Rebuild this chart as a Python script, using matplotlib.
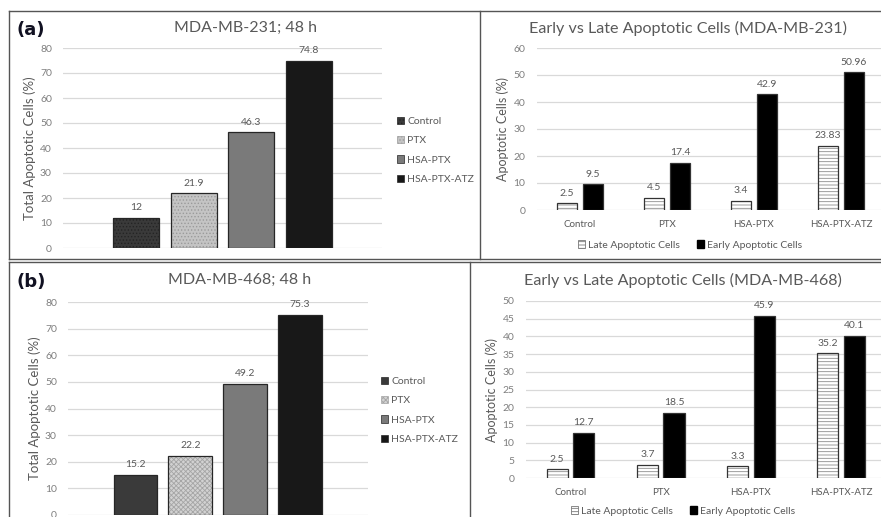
import matplotlib
matplotlib.use("Agg")
import matplotlib.pyplot as plt
from matplotlib.patches import Patch
from matplotlib.lines import Line2D
import numpy as np

plt.rcParams['font.family'] = ['Lato', 'DejaVu Sans']
plt.rcParams['hatch.linewidth'] = 0.6

W, H = 881, 517

# ---------------- data ----------------
groups = ["Control", "PTX", "HSA-PTX", "HSA-PTX-ATZ"]
total_231 = [12, 21.9, 46.3, 74.8]
total_468 = [15.2, 22.2, 49.2, 75.3]
late_231 = [2.5, 4.5, 3.4, 23.83]
early_231 = [9.5, 17.4, 42.9, 50.96]
late_468 = [2.5, 3.7, 3.3, 35.2]
early_468 = [12.7, 18.5, 45.9, 40.1]
late_labels_231 = ["2.5", "4.5", "3.4", "23.83"]
early_labels_231 = ["9.5", "17.4", "42.9", "50.96"]
late_labels_468 = ["2.5", "3.7", "3.3", "35.2"]
early_labels_468 = ["12.7", "18.5", "45.9", "40.1"]
total_labels_231 = ["12", "21.9", "46.3", "74.8"]
total_labels_468 = ["15.2", "22.2", "49.2", "75.3"]

TXT = '#595959'
TICK = '#7f7f7f'
GRID = '#d9d9d9'

fig = plt.figure(figsize=(W / 100, H / 100), dpi=100)


def ax_px(x0, x1, ytop, ybot):
    return fig.add_axes([x0 / W, 1 - ybot / H, (x1 - x0) / W, (ybot - ytop) / H])


def style(ax, ymax, step):
    ax.set_ylim(0, ymax)
    ax.set_yticks(np.arange(0, ymax + 0.01, step))
    ax.grid(axis='y', color=GRID, linewidth=0.9)
    ax.set_axisbelow(True)
    for s in ax.spines.values():
        s.set_visible(False)
    ax.tick_params(axis='y', length=0, labelsize=7.5, labelcolor=TICK, pad=8)
    ax.tick_params(axis='x', length=0, labelsize=7, labelcolor=TXT)


def hbar(ax, x, h, w, face, hatch=None, hcol=None, edge='#1a1a1a', lw=1.0):
    if hatch:
        ax.bar(x, h, w, color=face, edgecolor=hcol, hatch=hatch, linewidth=0, zorder=2)
        ax.bar(x, h, w, fill=False, edgecolor=edge, linewidth=lw, zorder=3)
    else:
        ax.bar(x, h, w, color=face, edgecolor=edge, linewidth=lw, zorder=2)


def labels(ax, x, vals, texts):
    for xi, v, t in zip(x, vals, texts):
        ax.annotate(t, (xi, v), xytext=(0, 4), textcoords='offset points',
                    ha='center', va='bottom', fontsize=7.5, color=TXT)


def total_panel(ax, vals, texts, styles, ylab, legend_x, legend_y):
    style(ax, 80, 10)
    x = np.arange(len(groups))
    for xi, v, st in zip(x, vals, styles):
        hbar(ax, xi, v, 0.8, st[0], st[1], st[2], edge='#262626', lw=0.9)
    labels(ax, x, vals, texts)
    ax.set_xticks([])
    ax.set_ylabel(ylab, fontsize=9.5, color=TXT, labelpad=3)
    handles = [Patch(facecolor=st[0], edgecolor=(st[2] if st[1] else '#262626'),
                     hatch=st[1], linewidth=0.5) for st in styles]
    leg = fig.legend(handles, groups, loc='upper left',
                     bbox_to_anchor=(legend_x / W, 1 - legend_y / H),
                     frameon=False, fontsize=7.5, handlelength=0.7, handleheight=0.7,
                     handletextpad=0.3, labelspacing=0.95, borderpad=0, borderaxespad=0)
    for t in leg.get_texts():
        t.set_color(TXT)


def pair_panel(ax, late, early, late_t, early_t, ymax, step):
    style(ax, ymax, step)
    x = np.arange(len(groups))
    off, w = 0.148, 0.235
    for xi, v in zip(x - off, late):
        hbar(ax, xi, v, w, 'white', '-----', '#8c8c8c', edge='#333333', lw=0.9)
    for xi, v in zip(x + off, early):
        hbar(ax, xi, v, w, 'black', edge='#333333', lw=0.9)
    labels(ax, x - off, late, late_t)
    labels(ax, x + off, early, early_t)
    ax.set_xlim(-0.5, 3.5)
    ax.set_xticks(x)
    ax.set_xticklabels(groups)
    ax.tick_params(axis='x', pad=7)
    ax.set_ylabel("Apoptotic Cells (%)", fontsize=9, color=TXT, labelpad=3)


# ---------- panel (a) left ----------
ax1 = ax_px(63, 382, 48, 248)
styles_a = [('#3a3a3a', '.....', '#242424'),
            ('#c4c4c4', '.....', '#9a9a9a'),
            ('#7a7a7a', None, None),
            ('#181818', None, None)]
total_panel(ax1, total_231, total_labels_231, styles_a, "Total Apoptotic Cells (%)", 397, 117)
ax1.set_xlim(-1.28, 4.28)
fig.text(245 / W, 1 - 28 / H, "MDA-MB-231; 48 h", ha='center', va='center', fontsize=11.5, color=TXT)
fig.text(16 / W, 1 - 30 / H, "(a)", ha='left', va='center', fontsize=13, fontweight='bold',
         family='DejaVu Sans', color='#111122')

# ---------- panel (a) right ----------
ax2 = ax_px(536.5, 884.5, 48, 210)
pair_panel(ax2, late_231, early_231, late_labels_231, early_labels_231, 60, 10)
fig.text(688 / W, 1 - 28 / H, "Early vs Late Apoptotic Cells (MDA-MB-231)", ha='center', va='center',
         fontsize=11.6, color=TXT)
lh = [Patch(facecolor='white', edgecolor='#777777', hatch='-----', linewidth=0.6),
      Patch(facecolor='black', edgecolor='black')]
leg2 = fig.legend(lh, ["Late Apoptotic Cells", "Early Apoptotic Cells"], loc='center',
                  bbox_to_anchor=(690 / W, 1 - 245 / H), ncol=2, frameon=False, fontsize=7.5,
                  handlelength=0.7, handleheight=0.7, handletextpad=0.3, columnspacing=1.6,
                  borderpad=0)
for t in leg2.get_texts():
    t.set_color(TXT)

# ---------- panel (b) left ----------
ax3 = ax_px(68, 368, 302, 515)
styles_b = [('#3a3a3a', None, None),
            ('#d2d2d2', 'xxxxxxx', '#a5a5a5'),
            ('#7a7a7a', None, None),
            ('#181818', None, None)]
total_panel(ax3, total_468, total_labels_468, styles_b, "Total Apoptotic Cells (%)", 381, 377)
ax3.set_xlim(-1.23, 4.24)
fig.text(240 / W, 1 - 280 / H, "MDA-MB-468; 48 h", ha='center', va='center', fontsize=11.5, color=TXT)
fig.text(16 / W, 1 - 282 / H, "(b)", ha='left', va='center', fontsize=13, fontweight='bold',
         family='DejaVu Sans', color='#111122')

# ---------- panel (b) right ----------
ax4 = ax_px(525.5, 886, 301, 478)
pair_panel(ax4, late_468, early_468, late_labels_468, early_labels_468, 50, 5)
fig.text(683 / W, 1 - 280 / H, "Early vs Late Apoptotic Cells (MDA-MB-468)", ha='center', va='center',
         fontsize=11.6, color=TXT)
leg4 = fig.legend(lh, ["Late Apoptotic Cells", "Early Apoptotic Cells"], loc='center',
                  bbox_to_anchor=(683 / W, 1 - 511 / H), ncol=2, frameon=False, fontsize=7.5,
                  handlelength=0.7, handleheight=0.7, handletextpad=0.3, columnspacing=1.6,
                  borderpad=0)
for t in leg4.get_texts():
    t.set_color(TXT)

# ---------- panel borders ----------
BC = '#555555'


def hline(y, x0, x1):
    fig.add_artist(Line2D([x0 / W, x1 / W], [1 - y / H, 1 - y / H], color=BC, lw=1.0))


def vline(x, y0, y1):
    fig.add_artist(Line2D([x / W, x / W], [1 - y0 / H, 1 - y1 / H], color=BC, lw=1.0))


hline(11, 9, W)
hline(259, 9, W)
hline(262, 9, W)
vline(9, 11, 259)
vline(480, 11, 259)
vline(9, 262, H)
vline(470, 262, H)

fig.savefig("out.png", dpi=100)
